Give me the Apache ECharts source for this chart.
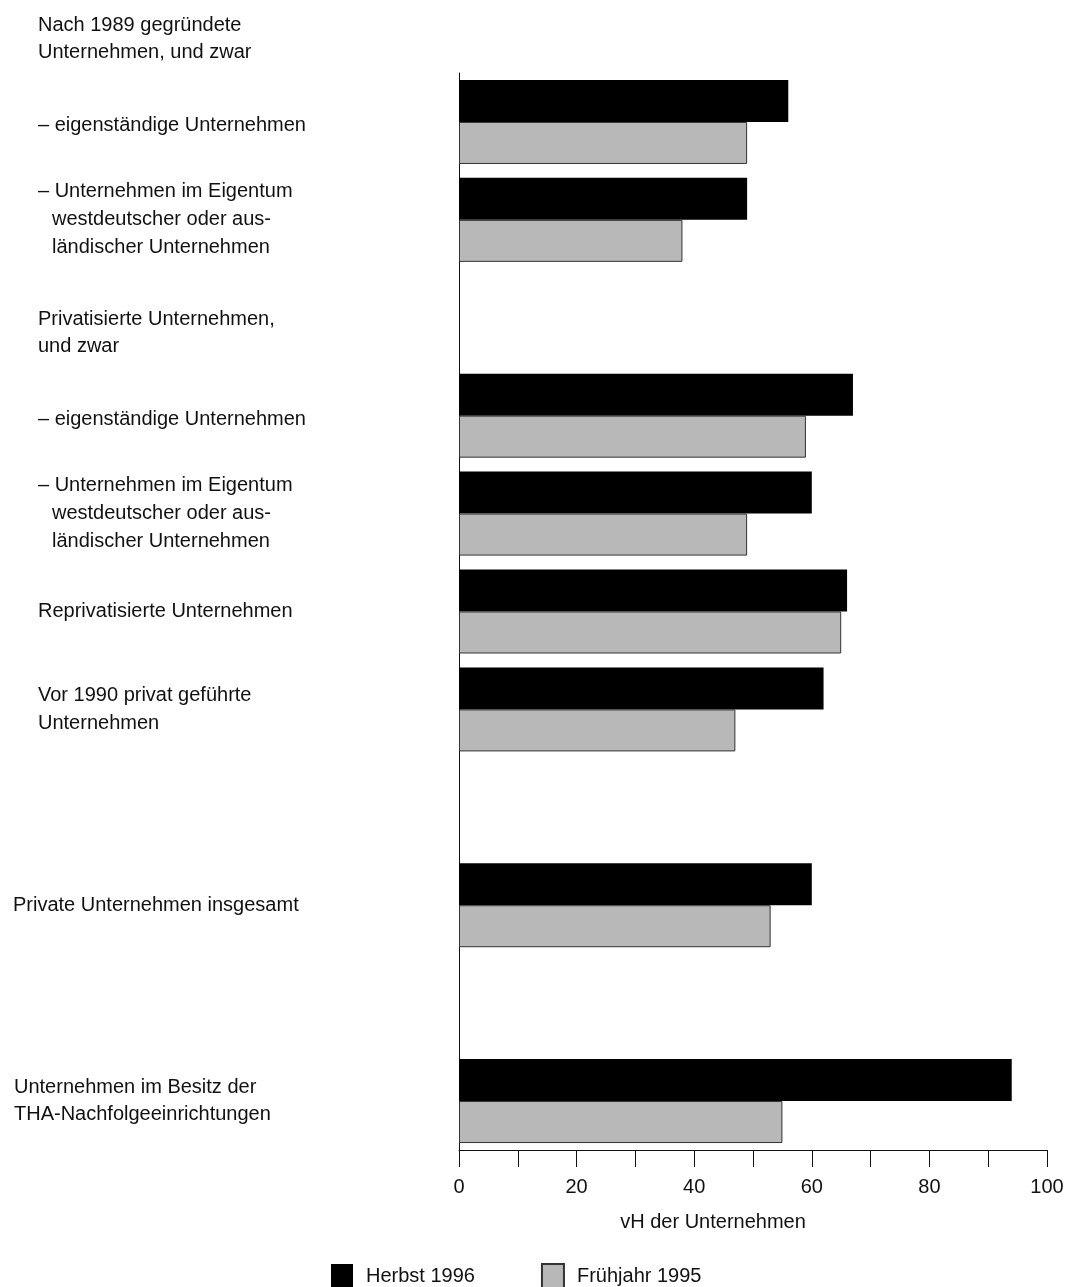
<!DOCTYPE html>
<html>
<head>
<meta charset="utf-8">
<script src="https://cdn.jsdelivr.net/npm/echarts@6/dist/echarts.min.js"></script>
<style>
html,body{margin:0;padding:0;background:#fff;}
#chart{width:1073px;height:1287px;}
</style>
</head>
<body>
<div id="chart"></div>
<script>
// Heading above the plot
const topHeading = 'Nach 1989 gegründete\nUnternehmen, und zwar';

// Categories (top to bottom); blank strings are spacer rows
const categories = [
  '– eigenständige Unternehmen',
  '– Unternehmen im Eigentum\nwestdeutscher oder aus-\nländischer Unternehmen',
  'Privatisierte Unternehmen,\nund zwar',
  '– eigenständige Unternehmen ',
  '– Unternehmen im Eigentum \nwestdeutscher oder aus-\nländischer Unternehmen',
  'Reprivatisierte Unternehmen',
  'Vor 1990 privat geführte\nUnternehmen',
  ' ',
  'Private Unternehmen insgesamt',
  '  ',
  'Unternehmen im Besitz der\nTHA-Nachfolgeeinrichtungen'
];

// Series values (vH der Unternehmen)
const herbst1996    = [56, 49, null, 67, 60, 66, 62, null, 60, null, 94];
const fruehjahr1995 = [49, 38, null, 59, 49, 65, 47, null, 53, null, 55];

// Axis
const xTicks = [0, 20, 40, 60, 80, 100];
const xAxisName = 'vH der Unternehmen';
const seriesNames = ['Herbst 1996', 'Frühjahr 1995'];

const FONT = '"Liberation Sans", Arial, Helvetica, sans-serif';
const FS = 20;

function labelFormatter(value, idx) {
  const lines = value.split('\n').map(s => s.trim());
  if (!lines[0]) return '';
  if (idx === 2) return lines.map(l => '{h|' + l + '}').join('\n');
  if (idx === 6) return lines.map(l => '{n|' + l + '}').join('\n');
  if (idx === 8) return lines.map(l => '{t|' + l + '}').join('\n');
  if (idx === 10) return lines.map(l => '{b|' + l + '}').join('\n');
  if (idx === 0 || idx === 3) return lines.map(l => '{f|' + l + '}').join('\n');
  return lines.map((l, i) => (i === 0 ? '{n|' + l + '}' : '{i|' + l + '}')).join('\n');
}

const base = {fontFamily: FONT, fontSize: FS, color: '#111', lineHeight: 28};

const chart = echarts.init(document.getElementById('chart'), null, {renderer: 'canvas'});
chart.setOption({
  backgroundColor: '#fff',
  animation: false,
  textStyle: {fontFamily: FONT, color: '#111'},
  title: {
    text: topHeading,
    left: 38,
    top: 12,
    padding: 0,
    textStyle: {fontFamily: FONT, fontSize: FS, fontWeight: 'normal', lineHeight: 27, color: '#111'}
  },
  grid: {left: 459, right: 26, top: 73, bottom: 137, containLabel: false},
  legend: {
    left: 331,
    top: 1263,
    padding: 0,
    itemWidth: 22,
    itemHeight: 25,
    itemGap: 66,
    icon: 'rect',
    textStyle: {fontFamily: FONT, fontSize: FS, color: '#111', padding: [0, 0, 0, 8]},
    data: seriesNames
  },
  xAxis: {
    type: 'value',
    min: 0,
    max: 100,
    interval: 10,
    name: xAxisName,
    nameLocation: 'middle',
    nameGap: 62,
    nameTextStyle: {fontFamily: FONT, fontSize: FS, color: '#111', padding: [0, 80, 0, 0]},
    axisLine: {show: true, lineStyle: {color: '#111', width: 1}},
    axisTick: {show: true, length: 17, inside: false, lineStyle: {color: '#111', width: 1}},
    axisLabel: {
      margin: 27,
      fontFamily: FONT,
      fontSize: FS,
      color: '#111',
      formatter: v => (xTicks.indexOf(v) >= 0 ? String(v) : '')
    },
    splitLine: {show: false}
  },
  yAxis: {
    type: 'category',
    inverse: true,
    data: categories,
    axisLine: {show: true, lineStyle: {color: '#111', width: 1}},
    axisTick: {show: false},
    axisLabel: {
      interval: 0,
      align: 'left',
      margin: 447,
      fontFamily: FONT,
      fontSize: FS,
      color: '#111',
      lineHeight: 28,
      formatter: labelFormatter,
      rich: {
        n: Object.assign({}, base, {padding: [0, 0, 0, 26]}),
        f: Object.assign({}, base, {padding: [8, 0, 0, 26]}),
        i: Object.assign({}, base, {padding: [0, 0, 0, 40]}),
        h: Object.assign({}, base, {lineHeight: 27, padding: [30, 0, 0, 26]}),
        t: Object.assign({}, base, {padding: [0, 0, 0, 1]}),
        b: Object.assign({}, base, {lineHeight: 27, padding: [0, 0, 0, 2]})
      }
    },
    splitLine: {show: false}
  },
  series: [
    {
      name: seriesNames[0],
      type: 'bar',
      data: herbst1996,
      barWidth: 42,
      barGap: '0%',
      itemStyle: {color: '#000', borderColor: '#000', borderWidth: 0}
    },
    {
      name: seriesNames[1],
      type: 'bar',
      data: fruehjahr1995,
      barWidth: 42,
      barGap: '0%',
      itemStyle: {color: '#b8b8b8', borderColor: '#333', borderWidth: 1}
    }
  ]
});
</script>
</body>
</html>
